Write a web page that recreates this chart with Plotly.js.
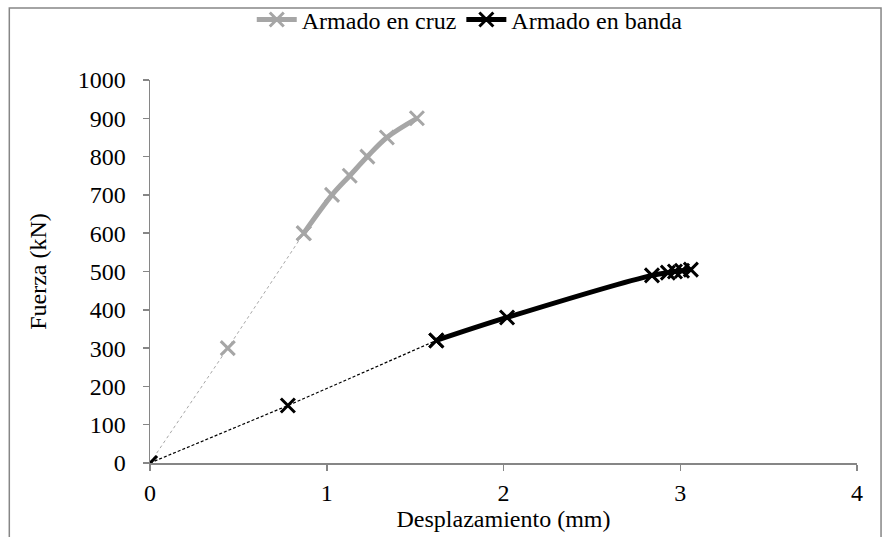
<!DOCTYPE html>
<html>
<head>
<meta charset="utf-8">
<script src="https://cdn.plot.ly/plotly-3.0.1.min.js"></script>
<style>
html,body{margin:0;padding:0;background:#fff;}
#chart{width:883px;height:537px;}
</style>
</head>
<body>
<div id="chart"></div>
<script>
// Data
const cruzX = [0, 0.44, 0.87, 1.03, 1.13, 1.23, 1.34, 1.51];
const cruzY = [0, 300, 600, 700, 750, 800, 850, 900];
const bandaX = [0, 0.78, 1.62, 2.02, 2.84, 2.93, 2.97, 3.01, 3.06];
const bandaY = [0, 150, 320, 380, 490, 497, 500, 502, 505];
const cruzSplit = 2;   // index where the solid part begins
const bandaSplit = 2;
const seriesNames = ['Armado en cruz', 'Armado en banda'];
const xTicks = [0, 1, 2, 3, 4];
const yTicks = [0, 100, 200, 300, 400, 500, 600, 700, 800, 900, 1000];

const FONT = 'Times';
const TXT = '#000000';
const gray = '#a6a6a6';
const black = '#000000';
function mk(c){ return {symbol: 'x-thin-open', size: 14, color: c, line: {color: c, width: 3}}; }

const traces = [
  {x: cruzX.slice(0, cruzSplit + 1), y: cruzY.slice(0, cruzSplit + 1), mode: 'lines+markers',
   line: {color: gray, width: 1, dash: 'dot'}, marker: mk(gray), showlegend: false, hoverinfo: 'skip'},
  {x: bandaX.slice(0, bandaSplit + 1), y: bandaY.slice(0, bandaSplit + 1), mode: 'lines+markers',
   line: {color: black, width: 1.2, dash: '3px,2px'}, marker: mk(black), showlegend: false, hoverinfo: 'skip'},
  {x: cruzX.slice(cruzSplit), y: cruzY.slice(cruzSplit), mode: 'lines+markers', name: seriesNames[0],
   line: {color: gray, width: 5, shape: 'spline'}, marker: mk(gray)},
  {x: bandaX.slice(bandaSplit), y: bandaY.slice(bandaSplit), mode: 'lines+markers', name: seriesNames[1],
   line: {color: black, width: 5, shape: 'spline'}, marker: mk(black)}
];

const axisCommon = {
  showgrid: false, zeroline: false, showline: true, linecolor: '#868686', linewidth: 1.5,
  ticks: 'outside', ticklen: 6, tickcolor: '#868686', tickwidth: 1.5,
  tickfont: {family: FONT, size: 24, color: TXT}
};

const layout = {
  width: 883, height: 537,
  margin: {l: 150, r: 26, t: 80, b: 74, autoexpand: false},
  paper_bgcolor: '#fff', plot_bgcolor: '#fff',
  font: {family: FONT, size: 24, color: TXT},
  xaxis: Object.assign({}, axisCommon, {range: [0, 4], tickvals: xTicks, ticktext: xTicks.map(String),
    ticklabelstandoff: 2, automargin: false,
    title: {text: 'Desplazamiento (mm)', font: {family: FONT, size: 24, color: TXT}, standoff: 0}}),
  yaxis: Object.assign({}, axisCommon, {range: [0, 1000], tickvals: yTicks, ticktext: yTicks.map(String),
    ticklabelstandoff: 12, automargin: false,
    title: {text: 'Fuerza (kN)', font: {family: FONT, size: 24, color: TXT}, standoff: 24}}),
  showlegend: true,
  legend: {orientation: 'h', xref: 'container', yref: 'container', x: 0.532, xanchor: 'center', y: 0.963, yanchor: 'middle',
    font: {family: FONT, size: 24, color: TXT}, bgcolor: 'rgba(0,0,0,0)', itemwidth: 40},
  shapes: [{type: 'rect', xref: 'paper', yref: 'paper', x0: -0.199, x1: 1.034, y0: -0.3, y1: 1.188,
    line: {color: '#868686', width: 1.5}, fillcolor: 'rgba(0,0,0,0)', layer: 'below'}]
};

Plotly.newPlot('chart', traces, layout, {displayModeBar: false, staticPlot: true}).then(function(gd){
  gd.querySelectorAll('text').forEach(function(t){
    t.style.setProperty('font-family', 'Times, serif', 'important');
    t.style.setProperty('fill', TXT, 'important');
  });
});
</script>
</body>
</html>
